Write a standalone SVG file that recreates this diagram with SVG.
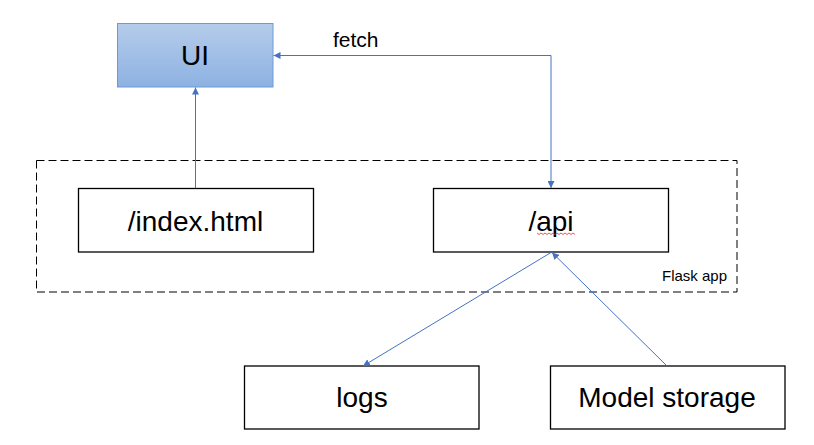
<svg xmlns="http://www.w3.org/2000/svg" width="814" height="445" viewBox="0 0 814 445">
<defs>
<linearGradient id="uiGrad" x1="0" y1="0" x2="0" y2="1">
<stop offset="0" stop-color="#b5cceb"/>
<stop offset="1" stop-color="#8db2e2"/>
</linearGradient>
<marker id="arr" viewBox="0 0 10 10" refX="10" refY="5" markerWidth="7" markerHeight="7" markerUnits="userSpaceOnUse" orient="auto">
<path d="M0,0 L10,5 L0,10 z" fill="#4472c4"/>
</marker>
<style>
.box{fill:#ffffff;stroke:#000000;stroke-width:1.3}
.lbl{font-family:"Liberation Sans",Arial,sans-serif;font-size:28px;fill:#000000;text-anchor:middle}
.small{font-family:"Liberation Sans",Arial,sans-serif;font-size:15px;fill:#000000}
.conn{fill:none;stroke:#4472c4;stroke-width:1}
</style>
</defs>
<rect width="814" height="445" fill="#ffffff"/>
<g id="flask-app">
<rect x="36.5" y="160.5" width="700.5" height="131.5" fill="none" stroke="#000000" stroke-width="1" stroke-dasharray="8,4"/>
<text class="small" x="662" y="281">Flask app</text>
</g>
<g id="ui">
<rect x="117.5" y="23.5" width="155.5" height="63.5" fill="url(#uiGrad)" stroke="#6d9ad6" stroke-width="1"/>
<text class="lbl" x="195" y="65">UI</text>
</g>
<g id="index">
<rect class="box" x="78.5" y="188.5" width="235" height="63.5"/>
<text class="lbl" x="195.5" y="231">/index.html</text>
</g>
<g id="api">
<rect class="box" x="433.5" y="188.5" width="235" height="63.5"/>
<text class="lbl" x="551" y="231">/api</text>
<path d="M537,233 l2,1.5 l2,-1.5 l2,1.5 l2,-1.5 l2,1.5 l2,-1.5 l2,1.5 l2,-1.5 l2,1.5 l2,-1.5 l2,1.5 l2,-1.5 l2,1.5 l2,-1.5 l2,1.5 l2,-1.5 l2,1.5 l2,-1.5 l2,1.5" fill="none" stroke="#e03030" stroke-width="0.8"/>
</g>
<g id="logs">
<rect class="box" x="244.5" y="366" width="234.5" height="63"/>
<text class="lbl" x="362" y="407">logs</text>
</g>
<g id="model-storage">
<rect class="box" x="550.5" y="366" width="234.5" height="63"/>
<text class="lbl" x="667" y="407">Model storage</text>
</g>
<g id="connectors">
<polyline class="conn" points="551,55.5 273.5,55.5" marker-end="url(#arr)"/>
<polyline class="conn" points="551,55.5 551,188" stroke-width="1.3" marker-end="url(#arr)"/>
<text x="333" y="47" font-family="Liberation Sans, Arial, sans-serif" font-size="21" fill="#000000">fetch</text>
<line class="conn" x1="195.5" y1="188" x2="195.5" y2="87.5" marker-end="url(#arr)"/>
<line class="conn" x1="551" y1="252.5" x2="363" y2="366" marker-end="url(#arr)"/>
<line class="conn" x1="667" y1="366" x2="552" y2="252.5" marker-end="url(#arr)"/>
</g>
</svg>
